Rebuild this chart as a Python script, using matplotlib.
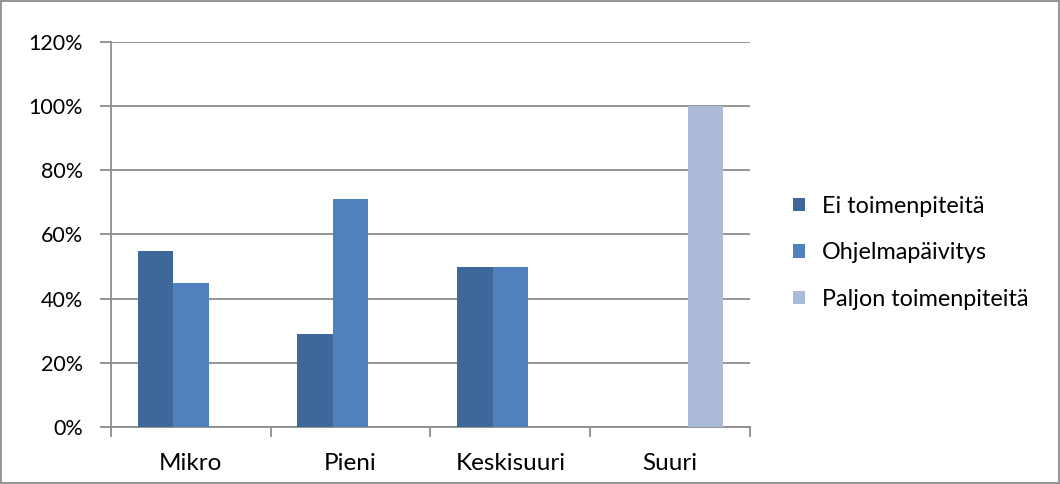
import numpy as np
import matplotlib
matplotlib.use("Agg")
import matplotlib.pyplot as plt
from matplotlib.ticker import FuncFormatter

plt.rcParams['font.family'] = ['Lato', 'DejaVu Sans']

categories = ['Mikro', 'Pieni', 'Keskisuuri', 'Suuri']
series_names = ['Ei toimenpiteitä', 'Ohjelmapäivitys', 'Paljon toimenpiteitä']
ei_toimenpiteita = [0.55, 0.29, 0.50, 0.0]
ohjelmapaivitys = [0.45, 0.71, 0.50, 0.0]
paljon_toimenpiteita = [0.0, 0.0, 0.0, 1.00]
colors = ['#3E6899', '#4F81BD', '#AABAD7']

fig = plt.figure(figsize=(10.6, 4.84), dpi=100)
ax = fig.add_axes([0.1047, 0.1178, 0.6028, 0.7954])

x = np.arange(len(categories))
w = 1 / 4.5
for i, (vals, name) in enumerate(zip([ei_toimenpiteita, ohjelmapaivitys, paljon_toimenpiteita], series_names)):
    ax.bar(x + (i - 1) * w, vals, width=w, color=colors[i], label=name, zorder=3)

ax.set_xlim(-0.5, len(categories) - 0.5)
ax.set_ylim(0, 1.2)
ax.set_yticks(np.arange(0, 1.21, 0.2))
ax.yaxis.set_major_formatter(FuncFormatter(lambda v, p: f"{v*100:.0f}%"))
ax.yaxis.grid(True, color='#8C8C8C', linewidth=1.3, zorder=0)

ax.set_xticks(x)
ax.set_xticklabels(categories)
ax.set_xticks(np.arange(-0.5, len(categories), 1), minor=True)
ax.tick_params(axis='x', which='major', length=0, pad=18.5, labelsize=17.5)
ax.tick_params(axis='x', which='minor', length=7, width=1.3, color='#8C8C8C', direction='out')
ax.tick_params(axis='y', length=8, width=1.3, color='#8C8C8C', labelsize=15.5, pad=12)

for s in ['top', 'right']:
    ax.spines[s].set_visible(False)
for s in ['left', 'bottom']:
    ax.spines[s].set_color('#8C8C8C')
    ax.spines[s].set_linewidth(1.3)

leg = fig.legend(loc='center left', bbox_to_anchor=(0.748, 0.478), frameon=False,
                 fontsize=16.8, handlelength=0.52, handleheight=0.52, handletextpad=0.73,
                 labelspacing=1.09, borderpad=0, borderaxespad=0)

fig.patches.append(plt.Rectangle((0.001, 0.002), 0.998, 0.996, transform=fig.transFigure,
                                 fill=False, edgecolor='#8C8C8C', linewidth=1.3))

fig.savefig('out.png', dpi=100)
